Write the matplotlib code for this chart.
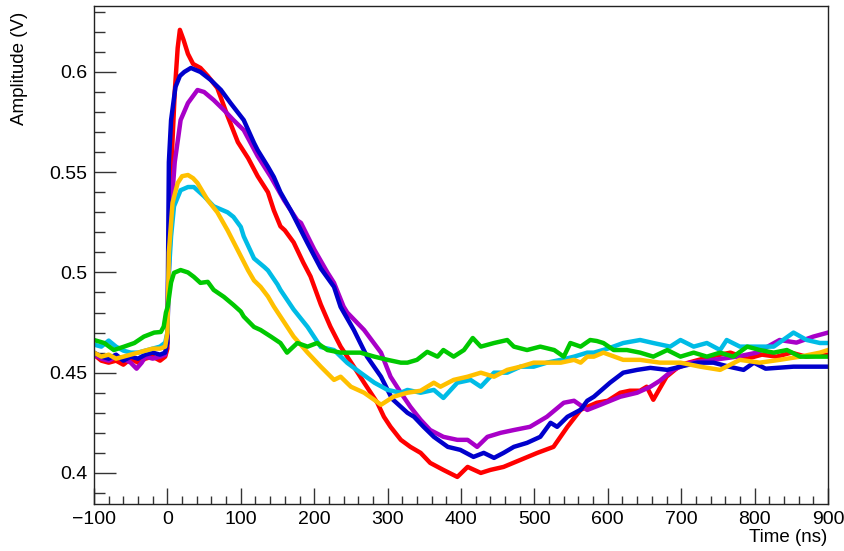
import matplotlib
matplotlib.use("Agg")
import matplotlib.pyplot as plt
from matplotlib.ticker import MultipleLocator, FuncFormatter

plt.rcParams['font.family'] = ['Liberation Sans', 'DejaVu Sans']

# waveforms, time in ns, amplitude in V
red_t = [-100, -90, -80, -70, -60, -50, -40, -30, -20, -10, -3, 0, 1, 5, 10, 14, 17, 22, 28, 35, 45, 55, 68,
         82, 96, 110, 123, 137, 145, 154, 160, 172, 185, 195, 209, 222, 236, 254, 268, 286, 295, 304, 318, 331,
         345, 358, 376, 395, 409, 427, 440, 458, 481, 504, 526, 545, 563, 585, 600, 617, 630, 644, 653, 662,
         669, 680, 700, 720, 740, 767, 790, 810, 830, 850, 870, 900]
red_v = [0.459, 0.456, 0.455, 0.456, 0.454, 0.457, 0.455, 0.457, 0.458, 0.456, 0.458, 0.462, 0.495, 0.55,
         0.59, 0.612, 0.621, 0.616, 0.609, 0.604, 0.602, 0.598, 0.592, 0.578, 0.565, 0.557, 0.548, 0.540,
         0.531, 0.523, 0.521, 0.515, 0.505, 0.498, 0.484, 0.473, 0.463, 0.453, 0.445, 0.435, 0.428, 0.423,
         0.4165, 0.413, 0.410, 0.405, 0.4015, 0.398, 0.403, 0.400, 0.4015, 0.403, 0.4065, 0.410, 0.413,
         0.423, 0.4315, 0.435, 0.436, 0.440, 0.441, 0.441, 0.443, 0.4365, 0.441, 0.448, 0.454, 0.456, 0.458,
         0.460, 0.457, 0.459, 0.458, 0.460, 0.458, 0.459]

purple_t = [-100, -90, -80, -70, -60, -50, -42, -35, -30, -20, -10, -3, 0, 2, 5, 10, 15, 18, 28, 41, 50, 63,
            77, 90, 104, 123, 141, 159, 177, 182, 200, 218, 227, 240, 245, 268, 291, 304, 318, 331, 345, 358,
            376, 395, 409, 422, 436, 454, 472, 494, 517, 540, 554, 572, 590, 617, 640, 658, 671, 689, 712,
            744, 776, 803, 834, 857, 880, 900]
purple_v = [0.459, 0.457, 0.456, 0.458, 0.457, 0.455, 0.452, 0.455, 0.458, 0.457, 0.458, 0.459, 0.47, 0.50,
            0.53, 0.555, 0.568, 0.576, 0.5845, 0.591, 0.590, 0.586, 0.581, 0.576, 0.571, 0.558, 0.5476,
            0.536, 0.526, 0.5247, 0.5115, 0.500, 0.4948, 0.483, 0.480, 0.4713, 0.460, 0.448, 0.440, 0.433,
            0.4265, 0.4214, 0.418, 0.4165, 0.4165, 0.413, 0.418, 0.420, 0.4214, 0.423, 0.428, 0.435, 0.436,
            0.4314, 0.434, 0.438, 0.440, 0.443, 0.446, 0.4514, 0.455, 0.4564, 0.458, 0.460, 0.4663, 0.465,
            0.468, 0.470]

blue_t = [-100, -90, -80, -70, -60, -50, -40, -30, -20, -10, -3, 0, 2, 5, 11, 17, 23, 32, 45, 59, 73, 86,
          104, 118, 123, 137, 145, 154, 168, 191, 209, 227, 236, 254, 272, 291, 306, 318, 327, 336, 349, 363,
          382, 399, 417, 431, 445, 458, 472, 490, 508, 522, 531, 545, 563, 572, 581, 603, 621, 640, 658, 681,
          699, 722, 744, 765, 785, 799, 815, 830, 853, 880, 900]
blue_v = [0.460, 0.458, 0.457, 0.459, 0.456, 0.458, 0.457, 0.459, 0.460, 0.459, 0.460, 0.465, 0.555, 0.576,
          0.5925, 0.598, 0.600, 0.602, 0.600, 0.596, 0.591, 0.5845, 0.576, 0.5646, 0.561, 0.5527, 0.5476,
          0.540, 0.531, 0.5145, 0.502, 0.4928, 0.4828, 0.4713, 0.458, 0.448, 0.437, 0.433, 0.430, 0.428,
          0.423, 0.418, 0.413, 0.4115, 0.408, 0.410, 0.4075, 0.410, 0.413, 0.415, 0.418, 0.425, 0.423,
          0.428, 0.4315, 0.436, 0.438, 0.445, 0.450, 0.4514, 0.4524, 0.4514, 0.453, 0.455, 0.455, 0.453,
          0.4514, 0.455, 0.452, 0.4524, 0.453, 0.453, 0.453]

cyan_t = [-100, -90, -80, -70, -60, -50, -40, -30, -20, -10, -3, 0, 2, 5, 9, 18, 28, 36, 50, 63, 82, 90, 100,
          104, 118, 132, 137, 150, 154, 172, 191, 209, 227, 245, 263, 282, 300, 318, 327, 345, 363, 376, 395,
          413, 427, 445, 463, 481, 499, 517, 536, 554, 572, 581, 600, 621, 644, 662, 685, 699, 717, 735, 753,
          762, 780, 803, 826, 853, 871, 889, 900]
cyan_v = [0.464, 0.463, 0.466, 0.463, 0.461, 0.460, 0.460, 0.461, 0.462, 0.463, 0.465, 0.47, 0.50, 0.518,
          0.533, 0.541, 0.5426, 0.5426, 0.538, 0.533, 0.530, 0.5277, 0.5227, 0.518, 0.507, 0.5027, 0.501,
          0.494, 0.4913, 0.4815, 0.4728, 0.4628, 0.4613, 0.4549, 0.450, 0.445, 0.4414, 0.440, 0.4414, 0.440,
          0.4414, 0.4374, 0.445, 0.4464, 0.443, 0.450, 0.450, 0.453, 0.453, 0.455, 0.4564, 0.458, 0.460,
          0.460, 0.462, 0.4648, 0.4663, 0.4648, 0.463, 0.4663, 0.463, 0.4648, 0.4613, 0.4663, 0.463, 0.463,
          0.463, 0.470, 0.4663, 0.4648, 0.4648]

yellow_t = [-100, -90, -80, -70, -60, -50, -40, -30, -20, -10, -3, 0, 2, 7, 14, 20, 28, 35, 41, 55, 68, 82,
            96, 110, 118, 127, 137, 145, 154, 172, 191, 209, 227, 236, 250, 268, 282, 291, 308, 327, 345, 363,
            372, 390, 409, 427, 445, 463, 481, 499, 517, 536, 554, 563, 572, 581, 594, 621, 644, 671, 699,
            726, 753, 780, 807, 834, 862, 889, 900]
yellow_v = [0.460, 0.458, 0.459, 0.457, 0.458, 0.459, 0.460, 0.461, 0.462, 0.462, 0.463, 0.47, 0.51, 0.5347,
            0.5446, 0.548, 0.5486, 0.547, 0.5446, 0.536, 0.530, 0.521, 0.511, 0.501, 0.496, 0.4928, 0.488,
            0.483, 0.478, 0.468, 0.460, 0.453, 0.4464, 0.448, 0.443, 0.440, 0.4364, 0.434, 0.438, 0.440,
            0.441, 0.445, 0.443, 0.4464, 0.448, 0.450, 0.448, 0.4514, 0.453, 0.455, 0.455, 0.455, 0.4564,
            0.455, 0.458, 0.458, 0.460, 0.4564, 0.4564, 0.455, 0.455, 0.453, 0.4514, 0.4564, 0.455, 0.4564,
            0.458, 0.460, 0.4613]

green_t = [-100, -86, -73, -59, -45, -32, -18, -9, -5, -2, 0.5, 5, 9, 18, 28, 36, 45, 55, 63, 77, 90, 100,
           104, 118, 127, 141, 154, 163, 177, 191, 204, 218, 236, 263, 282, 300, 318, 327, 340, 354, 368, 376,
           390, 404, 416, 427, 445, 463, 472, 490, 508, 527, 540, 549, 563, 576, 585, 594, 608, 626, 644, 662,
           681, 699, 717, 735, 753, 771, 790, 807, 826, 844, 862, 880, 900]
green_v = [0.4663, 0.4648, 0.4613, 0.463, 0.4648, 0.468, 0.470, 0.4703, 0.473, 0.48, 0.483, 0.495, 0.4998,
           0.5012, 0.500, 0.4978, 0.4948, 0.4953, 0.4913, 0.4878, 0.4838, 0.4805, 0.478, 0.4728, 0.4713,
           0.468, 0.4648, 0.46, 0.4648, 0.463, 0.4648, 0.4613, 0.46, 0.46, 0.458, 0.4564, 0.455, 0.455,
           0.4564, 0.4604, 0.458, 0.4613, 0.458, 0.4613, 0.4673, 0.463, 0.4648, 0.4663, 0.463, 0.4613,
           0.463, 0.4613, 0.458, 0.4648, 0.463, 0.4663, 0.4658, 0.4648, 0.4613, 0.4613, 0.46, 0.458, 0.4613,
           0.458, 0.46, 0.458, 0.46, 0.458, 0.463, 0.4613, 0.46, 0.4613, 0.458, 0.458, 0.458]

fig = plt.figure(figsize=(8.44, 5.51), dpi=100)
ax = fig.add_axes([94 / 844, 1 - 504 / 551, 734 / 844, 498 / 551])

# draw order: last one ends up on top
ax.plot(red_t, red_v, color="#ff0000", lw=3.2)
ax.plot(purple_t, purple_v, color="#a800c8", lw=3.2)
ax.plot(blue_t, blue_v, color="#0000cc", lw=3.2)
ax.plot(cyan_t, cyan_v, color="#00bce6", lw=3.2)
ax.plot(yellow_t, yellow_v, color="#ffc000", lw=3.2)
ax.plot(green_t, green_v, color="#00c800", lw=3.2)

ax.set_xlim(-100, 900)
ax.set_ylim(0.3845, 0.6329)

ax.xaxis.set_major_locator(MultipleLocator(100))
ax.xaxis.set_minor_locator(MultipleLocator(20))
ax.yaxis.set_major_locator(MultipleLocator(0.05))
ax.yaxis.set_minor_locator(MultipleLocator(0.01))
ax.yaxis.set_major_formatter(FuncFormatter(lambda v, p: "%g" % round(v, 3)))

ax.tick_params(axis="both", which="both", direction="in", top=False, right=False, labelsize=14, pad=5,
               width=1.0, color="#333333")
ax.tick_params(axis="x", which="major", length=11.5)
ax.tick_params(axis="x", which="minor", length=5.8)
ax.tick_params(axis="y", which="major", length=15.6)
ax.tick_params(axis="y", which="minor", length=7.9)
for s in ax.spines.values():
    s.set_linewidth(1.0)
    s.set_color("#222222")

fig.text(20 / 844, 1 - 12 / 551, "Amplitude (V)", rotation=90, ha="center", va="top", fontsize=13.5)
fig.text(827 / 844, 1 - 537 / 551, "Time (ns)", ha="right", va="center", fontsize=13.5)

fig.savefig("out.png", dpi=100)
